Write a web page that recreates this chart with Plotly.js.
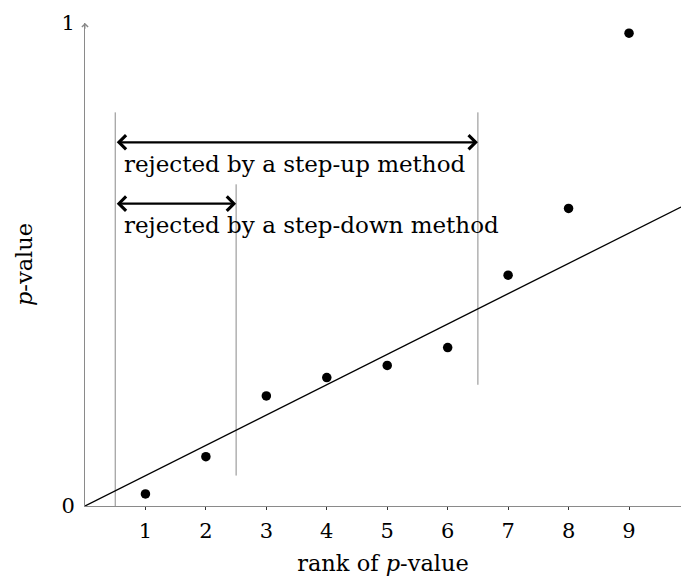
<!DOCTYPE html>
<html>
<head>
<meta charset="utf-8">
<script src="https://cdn.plot.ly/plotly-3.0.1.min.js"></script>
<style>html,body{margin:0;padding:0;background:#fff;}#chart{width:681px;height:579px;}</style>
</head>
<body>
<div id="chart"></div>
<script>
// Data
const ranks = [1, 2, 3, 4, 5, 6, 7, 8, 9];
const pValues = [0.025, 0.102, 0.228, 0.266, 0.291, 0.328, 0.478, 0.616, 0.979];
const thresholdX = [0, 9.86];
const thresholdY = [0, 0.619];
const cutX = [0.5, 2.5, 6.5];
const cutLow = [0, 0.063, 0.251];
const cutHigh = [0.815, 0.666, 0.815];
const arrowFrom = [0.5, 0.5];
const arrowTo = [6.5, 2.5];
const arrowY = [0.753, 0.626];
const arrowLabels = ['rejected by a step-up method', 'rejected by a step-down method'];
const labelY = [0.709, 0.581];
const xTicks = [1, 2, 3, 4, 5, 6, 7, 8, 9];
const yTicks = [0, 1];

const FONT = 'DejaVu Serif, serif';

const traces = [];
cutX.forEach((cx, i) => {
  traces.push({
    x: [cx, cx], y: [cutLow[i], cutHigh[i]],
    mode: 'lines', line: {color: '#8a8a8a', width: 1},
    hoverinfo: 'skip', showlegend: false
  });
});
traces.push({
  x: thresholdX, y: thresholdY, mode: 'lines',
  line: {color: '#000', width: 1.3}, hoverinfo: 'skip', showlegend: false
});
traces.push({
  x: ranks, y: pValues, mode: 'markers',
  marker: {color: '#000', size: 9.5}, showlegend: false, cliponaxis: false
});

const annotations = [];
arrowY.forEach((ay, i) => {
  annotations.push({
    x: arrowTo[i], y: ay, ax: arrowFrom[i], ay: ay,
    xref: 'x', yref: 'y', axref: 'x', ayref: 'y',
    text: '', showarrow: true, arrowside: 'end+start',
    arrowhead: 4, startarrowhead: 4, arrowsize: 1.2, startarrowsize: 1.2,
    arrowwidth: 2.3, arrowcolor: '#000', standoff: 0, startstandoff: 0
  });
  annotations.push({
    x: arrowFrom[i], y: labelY[i], xref: 'x', yref: 'y',
    text: arrowLabels[i], showarrow: false, xanchor: 'left', yanchor: 'middle',
    xshift: 7, font: {family: FONT, size: 23, color: '#000'}
  });
});
// y axis arrow tip
annotations.push({
  x: 0, y: 1, ax: 0, ay: 0.985, xref: 'x', yref: 'y', axref: 'x', ayref: 'y',
  text: '', showarrow: true, arrowhead: 4, arrowsize: 1.2, arrowwidth: 1,
  arrowcolor: '#888', standoff: 0
});

const layout = {
  width: 681, height: 579,
  margin: {l: 85, r: 0, t: 23, b: 73, pad: 0},
  paper_bgcolor: '#fff', plot_bgcolor: '#fff',
  showlegend: false,
  font: {family: FONT, size: 21, color: '#000'},
  xaxis: {
    range: [0, 9.86], showgrid: false, zeroline: false,
    showline: true, linecolor: '#8a8a8a', linewidth: 1,
    tickmode: 'array', tickvals: xTicks, ticktext: xTicks.map(String),
    ticks: 'outside', ticklen: 3, tickwidth: 1, tickcolor: '#333',
    tickfont: {family: FONT, size: 21}, ticklabelstandoff: 3,
    title: {text: 'rank of <i>p</i>-value', font: {family: FONT, size: 22.5}, standoff: 13},
    fixedrange: true
  },
  xaxis2: {
    overlaying: 'x', range: [0, 9.86], anchor: 'y',
    showgrid: false, zeroline: false, showline: false,
    tickmode: 'array', tickvals: xTicks, showticklabels: false,
    ticks: 'inside', ticklen: 3, tickwidth: 1, tickcolor: '#333'
  },
  yaxis: {
    range: [0, 1], showgrid: false, zeroline: false,
    showline: true, linecolor: '#8a8a8a', linewidth: 1,
    tickmode: 'array', tickvals: yTicks, ticktext: yTicks.map(String),
    ticks: '', tickfont: {family: FONT, size: 21}, ticklabelstandoff: 5,
    title: {text: '<i>p</i>-value', font: {family: FONT, size: 22.5}, standoff: 22},
    fixedrange: true
  },
  annotations: annotations
};

Plotly.newPlot('chart', traces, layout, {staticPlot: true, displayModeBar: false});
</script>
</body>
</html>
